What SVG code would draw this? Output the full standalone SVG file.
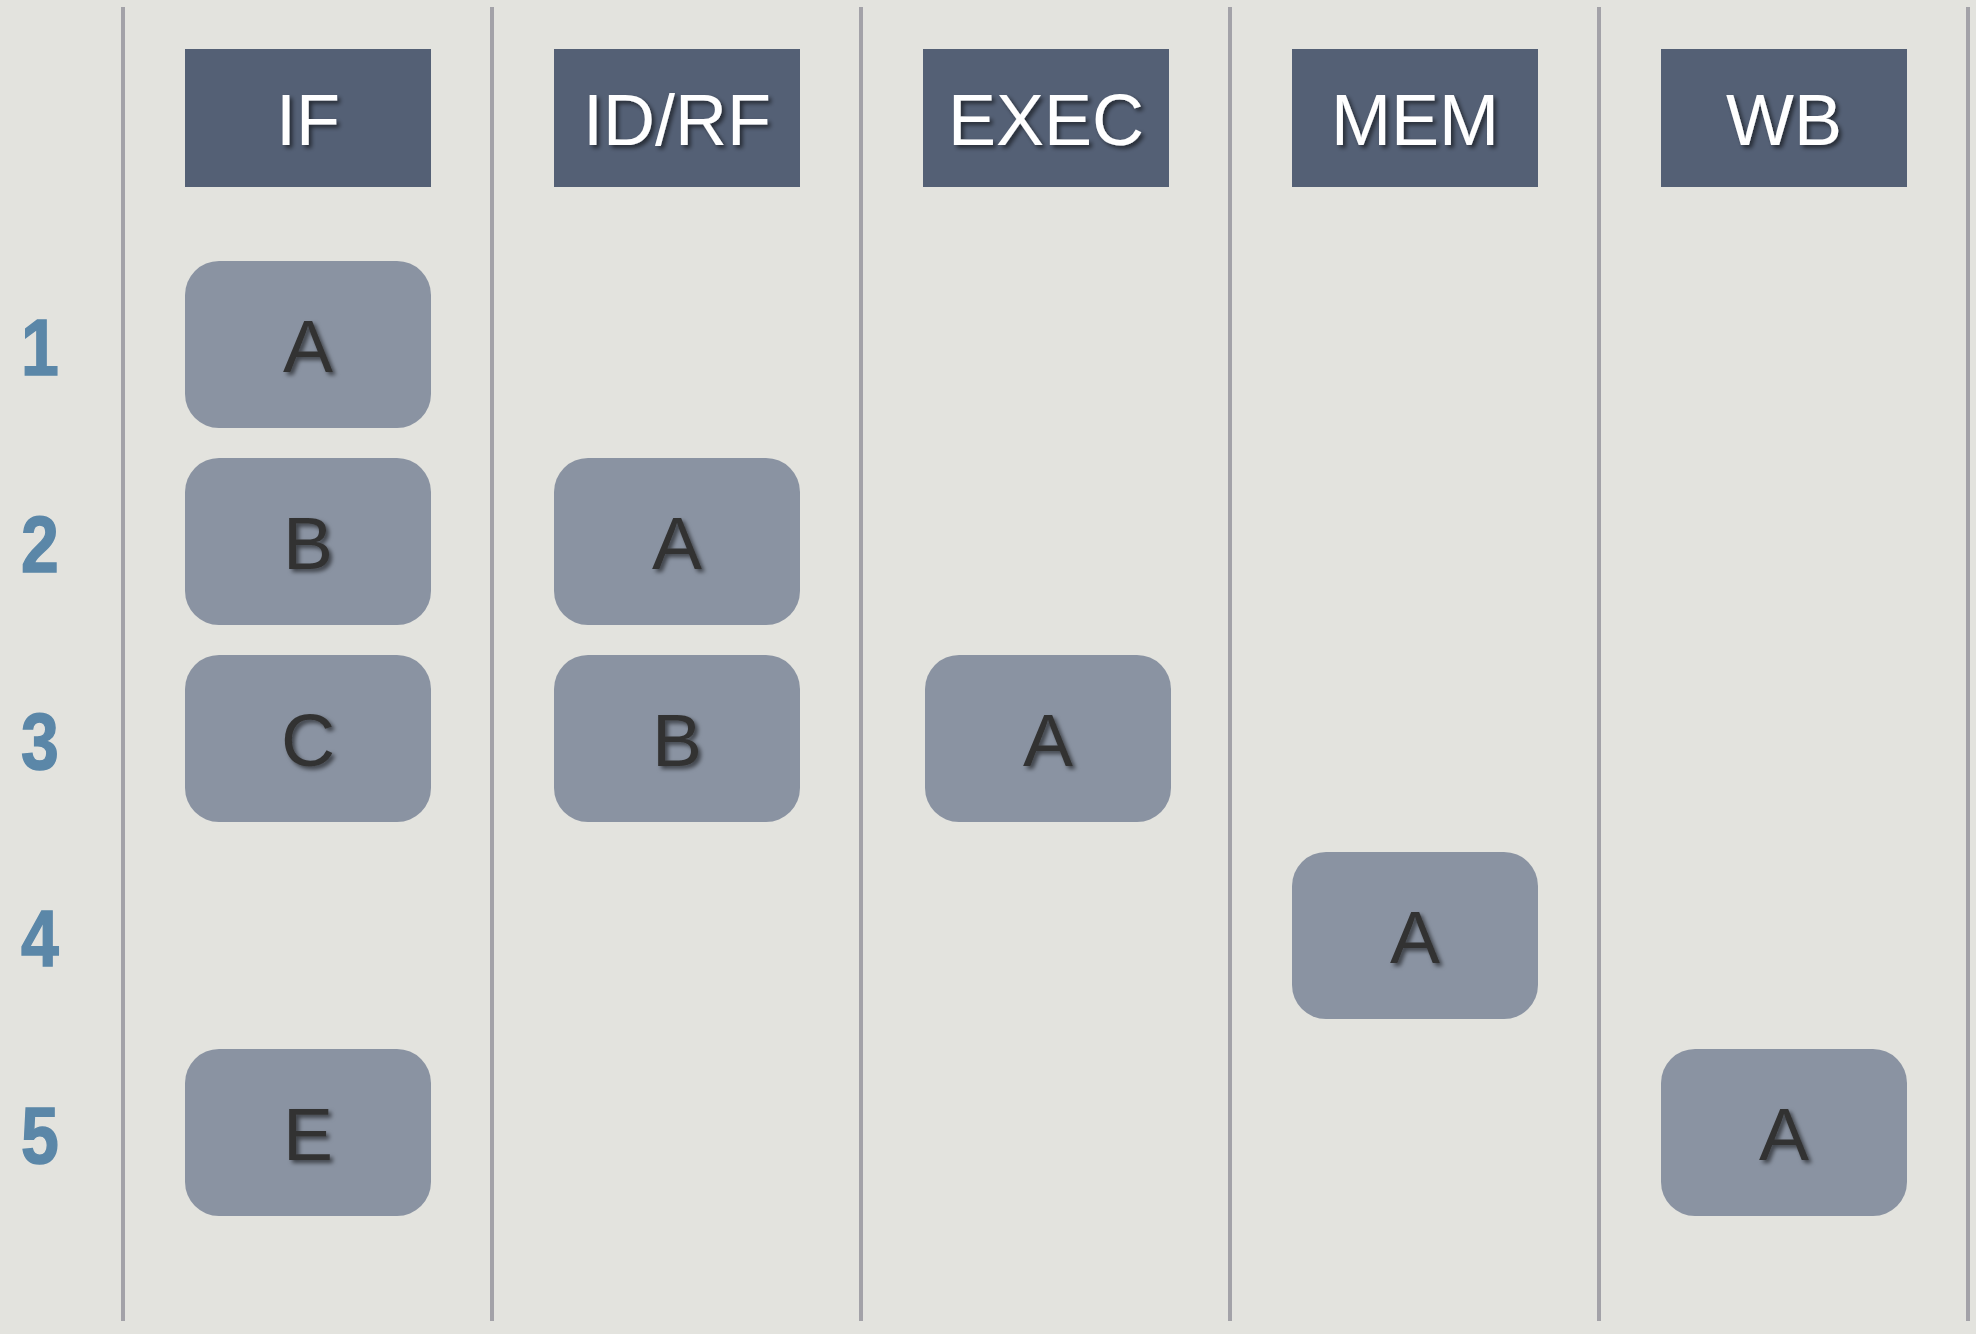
<svg xmlns="http://www.w3.org/2000/svg" width="1976" height="1334" viewBox="0 0 1976 1334">
<defs>
<filter id="ts" x="-30%" y="-30%" width="160%" height="160%">
<feDropShadow dx="3" dy="3" stdDeviation="2" flood-color="#000" flood-opacity="0.55"/>
</filter>
<style>
.bg{fill:#e3e3de}
.lane{stroke:#a3a2a8;stroke-width:4}
.hdr{fill:#546075}
.box{fill:#8a93a2}
.ht{font-family:"Liberation Sans",Arial,sans-serif;font-size:72px;fill:#ffffff;text-anchor:middle;filter:url(#ts)}
.bt{font-family:"Liberation Sans",Arial,sans-serif;font-size:75px;fill:#333333;text-anchor:middle;filter:url(#ts)}
.num{font-family:"Liberation Sans",Arial,sans-serif;font-weight:bold;font-size:79px;fill:#5b87a8;stroke:#5b87a8;stroke-width:1.5;text-anchor:middle}
</style>
</defs>
<rect class="bg" x="0" y="0" width="1976" height="1334"/>
<g id="lanes">
<line class="lane" x1="123" y1="7" x2="123" y2="1321"/>
<line class="lane" x1="492" y1="7" x2="492" y2="1321"/>
<line class="lane" x1="861" y1="7" x2="861" y2="1321"/>
<line class="lane" x1="1230" y1="7" x2="1230" y2="1321"/>
<line class="lane" x1="1599" y1="7" x2="1599" y2="1321"/>
<line class="lane" x1="1968" y1="7" x2="1968" y2="1321"/>
</g>
<g id="row-numbers">
<text class="num" transform="translate(40,375) scale(0.86,1)">1</text>
<text class="num" transform="translate(40,572) scale(0.86,1)">2</text>
<text class="num" transform="translate(40,769) scale(0.86,1)">3</text>
<text class="num" transform="translate(40,966) scale(0.86,1)">4</text>
<text class="num" transform="translate(40,1163) scale(0.86,1)">5</text>
</g>
<g id="hdr-IF"><rect class="hdr" x="185" y="49" width="246" height="138"/><text class="ht" x="308" y="145">IF</text></g>
<g id="hdr-IDRF"><rect class="hdr" x="554" y="49" width="246" height="138"/><text class="ht" x="677" y="145">ID/RF</text></g>
<g id="hdr-EXEC"><rect class="hdr" x="923" y="49" width="246" height="138"/><text class="ht" x="1046" y="145">EXEC</text></g>
<g id="hdr-MEM"><rect class="hdr" x="1292" y="49" width="246" height="138"/><text class="ht" x="1415" y="145">MEM</text></g>
<g id="hdr-WB"><rect class="hdr" x="1661" y="49" width="246" height="138"/><text class="ht" x="1784" y="145">WB</text></g>
<g id="if-1-A"><rect class="box" x="185" y="261" width="246" height="167" rx="34"/><text class="bt" x="308" y="372">A</text></g>
<g id="if-2-B"><rect class="box" x="185" y="458" width="246" height="167" rx="34"/><text class="bt" x="308" y="569">B</text></g>
<g id="if-3-C"><rect class="box" x="185" y="655" width="246" height="167" rx="34"/><text class="bt" x="308" y="766">C</text></g>
<g id="if-5-E"><rect class="box" x="185" y="1049" width="246" height="167" rx="34"/><text class="bt" x="308" y="1160">E</text></g>
<g id="id-2-A"><rect class="box" x="554" y="458" width="246" height="167" rx="34"/><text class="bt" x="677" y="569">A</text></g>
<g id="id-3-B"><rect class="box" x="554" y="655" width="246" height="167" rx="34"/><text class="bt" x="677" y="766">B</text></g>
<g id="ex-3-A"><rect class="box" x="925" y="655" width="246" height="167" rx="34"/><text class="bt" x="1048" y="766">A</text></g>
<g id="mem-4-A"><rect class="box" x="1292" y="852" width="246" height="167" rx="34"/><text class="bt" x="1415" y="963">A</text></g>
<g id="wb-5-A"><rect class="box" x="1661" y="1049" width="246" height="167" rx="34"/><text class="bt" x="1784" y="1160">A</text></g>
<g id="connectors"></g>
</svg>
